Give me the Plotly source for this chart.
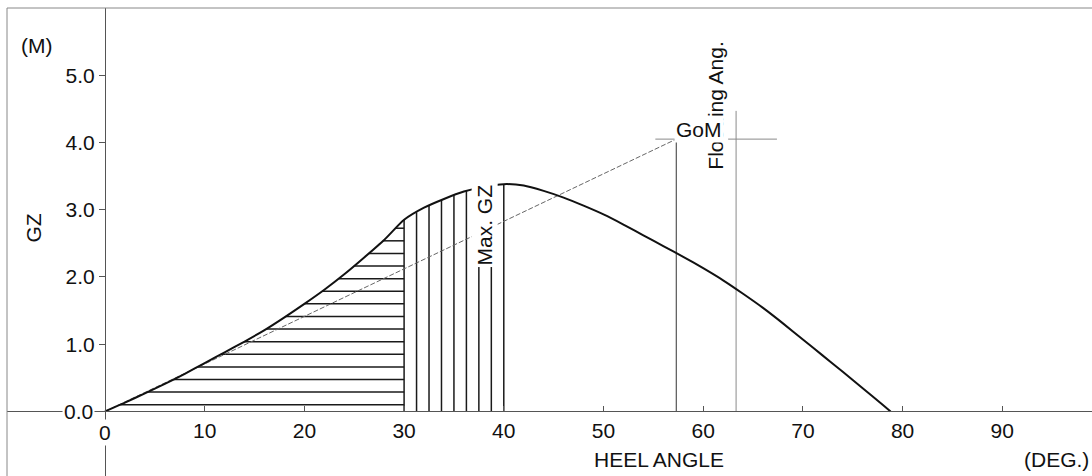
import numpy as np
import plotly.graph_objects as go

# ---------------- data ----------------
heel_angle = [0, 2, 4, 6, 8, 10, 12, 14, 16, 18, 20, 22, 24, 26, 28, 30,
              32, 34, 36, 38, 40, 42, 44, 46, 48, 50, 52, 54, 56, 58, 60,
              62, 64, 66, 68, 70, 72, 74, 76, 78, 78.8]
gz = [0.00, 0.13, 0.27, 0.41, 0.56, 0.72, 0.88, 1.04, 1.21, 1.40, 1.60,
      1.81, 2.04, 2.29, 2.55, 2.85, 3.03, 3.16, 3.27, 3.34, 3.38, 3.36,
      3.28, 3.18, 3.06, 2.93, 2.78, 2.62, 2.46, 2.30, 2.13, 1.95, 1.75,
      1.54, 1.31, 1.07, 0.83, 0.59, 0.345, 0.10, 0.00]

gom_angle = 57.3        # 1 radian
gm_value = 4.05         # GoM (m)
flooding_angle = 63.3
flooding_mark = 4.47
max_gz_angle = 40.0
area_split_angle = 30.0

x_ticks = [0, 10, 20, 30, 40, 50, 60, 70, 80, 90]
x_tick_labels = ["0", "10", "20", "30", "40", "50", "60", "70", "80", "90"]
y_ticks = [0, 1, 2, 3, 4, 5]
y_tick_labels = ["0.0", "1.0", "2.0", "3.0", "4.0", "5.0"]

X_RANGE = [-9.83, 99.0]
Y_RANGE = [-0.96, 6.0]

FONT = "Liberation Sans, Arial, sans-serif"
FS = 21

ang = np.array(heel_angle, dtype=float)
g = np.array(gz, dtype=float)
peak = int(np.argmax(g))

fig = go.Figure()

# ---- horizontal hatching (0 .. 30 deg) ----
levels = 0.1 + 0.1875 * np.arange(15)
hx, hy = [], []
for L in levels:
    xl = float(np.interp(L, g[:peak + 1], ang[:peak + 1]))
    hx += [xl, area_split_angle, None]
    hy += [L, L, None]
fig.add_trace(go.Scatter(x=hx, y=hy, mode="lines", hoverinfo="skip",
                         line=dict(color="#1a1a1a", width=1.5), showlegend=False))

# ---- vertical hatching (30 .. 40 deg) ----
vx, vy = [], []
for a in area_split_angle + 1.25 * np.arange(9):
    top = float(np.interp(a, ang, g))
    vx += [a, a, None]
    vy += [0, top, None]
fig.add_trace(go.Scatter(x=vx, y=vy, mode="lines", hoverinfo="skip",
                         line=dict(color="#1a1a1a", width=1.5), showlegend=False))

# ---- GM line from origin ----
fig.add_trace(go.Scatter(x=[0, gom_angle], y=[0, gm_value], mode="lines",
                         line=dict(color="#666666", width=1, dash="5px,2px"),
                         showlegend=False))
# ---- GoM vertical ----
fig.add_trace(go.Scatter(x=[gom_angle, gom_angle], y=[0, gm_value], mode="lines",
                         line=dict(color="#333333", width=1), showlegend=False))
# ---- GoM horizontal crosshair ----
fig.add_trace(go.Scatter(x=[gom_angle - 2.1, flooding_angle + 4.1],
                         y=[gm_value, gm_value], mode="lines",
                         line=dict(color="#8a8a8a", width=1), showlegend=False))
# ---- flooding angle vertical ----
fig.add_trace(go.Scatter(x=[flooding_angle, flooding_angle], y=[0, flooding_mark],
                         mode="lines", line=dict(color="#8a8a8a", width=1),
                         showlegend=False))

# ---- GZ curve ----
fig.add_trace(go.Scatter(x=heel_angle, y=gz, mode="lines",
                         line=dict(color="#111111", width=2, shape="spline",
                                   smoothing=0.6),
                         showlegend=False))

xpos = (0 - X_RANGE[0]) / (X_RANGE[1] - X_RANGE[0])
ypos = (0 - Y_RANGE[0]) / (Y_RANGE[1] - Y_RANGE[0])

fig.update_layout(
    width=1092, height=476,
    margin=dict(l=7, r=0, t=8, b=0),
    paper_bgcolor="white", plot_bgcolor="white",
    font=dict(family=FONT, size=FS, color="#111111"),
    xaxis=dict(range=X_RANGE, anchor="free", position=ypos,
               showgrid=False, zeroline=False,
               showline=True, linecolor="#555555", linewidth=1,
               tickvals=x_ticks, ticktext=["" if t == "0" else t for t in x_tick_labels],
               ticks="inside", ticklen=5, tickcolor="#555555",
               tickfont=dict(family=FONT, size=FS, color="#111111")),
    yaxis=dict(range=Y_RANGE, anchor="free", position=xpos,
               showgrid=False, zeroline=False,
               showline=True, linecolor="#555555", linewidth=1,
               tickvals=y_ticks, ticktext=["" if t == "0.0" else t for t in y_tick_labels],
               ticks="outside", ticklen=6, tickcolor="#555555",
               tickfont=dict(family=FONT, size=FS, color="#111111")),
)

# frame (left and top)
fig.add_shape(type="line", xref="paper", yref="paper", x0=0, x1=0, y0=0, y1=1,
              line=dict(color="#888888", width=1))
fig.add_shape(type="line", xref="paper", yref="paper", x0=0, x1=1, y0=1, y1=1,
              line=dict(color="#888888", width=1))

def ann(text, x, y, angle=0, bg=None, xanchor="center", yanchor="middle"):
    fig.add_annotation(text=text, x=x, y=y, xref="x", yref="y", showarrow=False,
                       textangle=angle, xanchor=xanchor, yanchor=yanchor,
                       bgcolor=bg, borderpad=1,
                       font=dict(family=FONT, size=FS, color="#111111"))

# origin labels with white background (axis lines break around them)
ann("0.0", -1.0, 0, bg="white", xanchor="right")
ann("0", 0, -0.32, bg="white")

ann("(M)", -6.85, 5.44)
ann("GZ", -7.12, 2.72, angle=-90)
ann("HEEL ANGLE", 55.6, -0.71)
ann("(DEG.)", 95.4, -0.72)

ann("Max. GZ", 38.05, 2.77, angle=-90, bg="white")
ann("Flooding Ang.", 61.2, 4.55, angle=-90, bg="white")
ann("GoM", 59.63, 4.20, bg="white")

fig.write_html("out.html")
